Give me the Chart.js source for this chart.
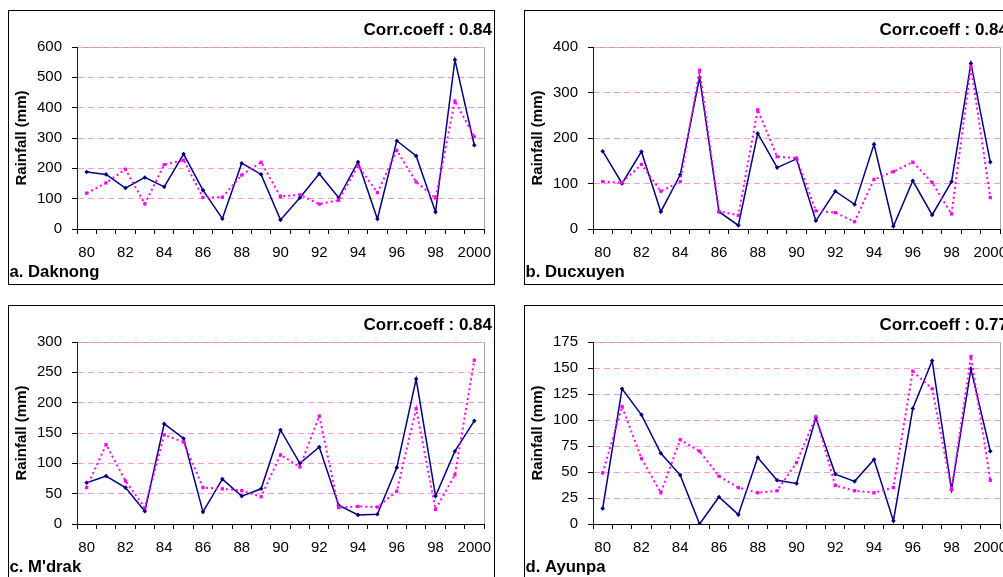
<!DOCTYPE html>
<html>
<head>
<meta charset="utf-8">
<script src="https://cdn.jsdelivr.net/npm/chart.js@4/dist/chart.umd.min.js"></script>
<style>
  html, body { margin: 0; padding: 0; background: #fff; }
  body { position: relative; width: 1003px; height: 577px; overflow: hidden; }
  .panel { position: absolute; box-sizing: border-box; width: 487px; height: 275px; border: 1px solid #000; background: #fff; }
  .panel canvas { position: absolute; left: 0; top: 0; }
</style>
</head>
<body>
<div class="panel" style="left:8px;top:10px"><canvas id="chartA" width="485" height="273"></canvas></div>
<div class="panel" style="left:524px;top:10px"><canvas id="chartB" width="485" height="273"></canvas></div>
<div class="panel" style="left:8px;top:305px"><canvas id="chartC" width="485" height="273"></canvas></div>
<div class="panel" style="left:524px;top:305px"><canvas id="chartD" width="485" height="273"></canvas></div>
<script>
// Years 1980-2000 on the category axis
const years = ['80','81','82','83','84','85','86','87','88','89','90',
               '91','92','93','94','95','96','97','98','99','2000'];

// a. Daknong
const daknongObs = [188,180,135,170,139,247,128,34,217,180,30,103,182,103,221,33,291,241,56,558,276];
const daknongEst = [118,152,197,83,212,227,104,105,178,220,107,113,82,95,208,120,259,155,102,422,304];
const daknongTicks = [0,100,200,300,400,500,600];

// b. Ducxuyen
const ducxuyenObs = [171,100,170,38,119,333,38,8,210,135,154,18,83,54,186,6,106,31,104,364,147];
const ducxuyenEst = [104,102,142,83,104,349,39,30,262,159,156,40,36,16,109,126,147,102,33,357,69];
const ducxuyenTicks = [0,100,200,300,400];

// c. M'drak
const mdrakObs = [68,79,60,21,165,141,20,74,46,58,155,100,127,31,15,16,93,239,46,120,170];
const mdrakEst = [60,131,71,27,147,135,60,58,55,45,114,94,178,27,29,28,54,190,24,81,270];
const mdrakTicks = [0,50,100,150,200,250,300];

// d. Ayunpa
const ayunpaObs = [15,130,105,68,47,0,26,9,64,42,39,102,48,41,62,3,111,157,33,149,70];
const ayunpaEst = [49,113,63,30,81,70,46,35,30,32,59,103,37,32,30,35,147,130,33,161,42];
const ayunpaTicks = [0,25,50,75,100,125,150,175];

const FONT = "'Liberation Sans', Arial, Helvetica, sans-serif";
Chart.defaults.font.family = FONT;
Chart.defaults.color = '#000';

// Grey frame along the top and right of the plot area
const plotFrame = {
  id: 'plotFrame',
  beforeDraw(chart) {
    const a = chart.chartArea, ctx = chart.ctx;
    ctx.save();
    ctx.strokeStyle = '#a6a6a6';
    ctx.lineWidth = 1;
    ctx.beginPath();
    ctx.moveTo(Math.round(a.left) + 0.5, Math.round(a.top) + 0.5);
    ctx.lineTo(Math.round(a.right) + 0.5, Math.round(a.top) + 0.5);
    ctx.lineTo(Math.round(a.right) + 0.5, Math.round(a.bottom) + 0.5);
    ctx.stroke();
    ctx.restore();
  }
};

// Correlation note (top right) and station name (bottom left)
const panelText = {
  id: 'panelText',
  afterDraw(chart, args, opts) {
    const ctx = chart.ctx;
    ctx.save();
    ctx.fillStyle = '#000';
    ctx.textBaseline = 'alphabetic';
    ctx.font = 'bold 17px ' + FONT;
    ctx.textAlign = 'right';
    ctx.fillText(opts.corr, chart.width - 2, 24);
    ctx.font = 'bold 16.7px ' + FONT;
    ctx.textAlign = 'left';
    ctx.fillText(opts.name, 0.5, 266);
    ctx.restore();
  }
};

function makeChart(id, ticks, obs, est, corr, name) {
  const step = ticks[1] - ticks[0];
  return new Chart(document.getElementById(id), {
    type: 'line',
    data: {
      labels: years,
      datasets: [
        {
          data: est,
          borderColor: '#ff00ff',
          borderWidth: 2,
          borderDash: [2, 3],
          pointStyle: 'rect',
          pointRadius: 2.3,
          pointBorderWidth: 0,
          pointBackgroundColor: '#ff00ff',
          tension: 0,
          fill: false
        },
        {
          data: obs,
          borderColor: '#000080',
          borderWidth: 1.5,
          pointStyle: 'rectRot',
          pointRadius: 2.3,
          pointBorderWidth: 0,
          pointBackgroundColor: '#000080',
          tension: 0,
          fill: false
        }
      ]
    },
    options: {
      responsive: false,
      animation: false,
      events: [],
      layout: { padding: { left: 0, top: 36, right: 10, bottom: 0 } },
      plugins: {
        legend: { display: false },
        tooltip: { enabled: false },
        panelText: { corr: corr, name: name }
      },
      scales: {
        x: {
          type: 'category',
          offset: true,
          grid: {
            display: true, offset: true, drawOnChartArea: false, drawTicks: true,
            tickLength: 5, tickColor: '#000', tickWidth: 1
          },
          border: { display: true, color: '#000', width: 1 },
          ticks: {
            autoSkip: false, maxRotation: 0, minRotation: 0, padding: 10, color: '#000',
            font: { size: 15 },
            callback: (v, i) => (i % 2 === 0 ? years[i] : '')
          },
          afterFit(s) { s.height = 55; s.paddingLeft = 0; s.paddingRight = 0; }
        },
        y: {
          min: ticks[0],
          max: ticks[ticks.length - 1],
          afterBuildTicks(s) { s.ticks = ticks.map(v => ({ value: v })); },
          ticks: { stepSize: step, padding: 10, color: '#000', font: { size: 15 } },
          grid: {
            color: c => (c.tick && c.tick.value === ticks[0]) ? 'rgba(0,0,0,0)' : '#ff99cc',
            lineWidth: 1, drawTicks: true, tickLength: 5, tickColor: '#000', tickWidth: 1
          },
          border: { display: true, color: '#1a1a1a', width: 1, dash: [6, 4] },
          title: {
            display: true, text: 'Rainfall (mm)', color: '#000',
            font: { size: 15, weight: 'bold' }, padding: { top: 4, bottom: 4 }
          },
          afterFit(s) { s.width = 68; s.paddingTop = 0; s.paddingBottom = 0; }
        }
      }
    },
    plugins: [plotFrame, panelText]
  });
}

makeChart('chartA', daknongTicks, daknongObs, daknongEst, 'Corr.coeff : 0.84', 'a. Daknong');
makeChart('chartB', ducxuyenTicks, ducxuyenObs, ducxuyenEst, 'Corr.coeff : 0.84', 'b. Ducxuyen');
makeChart('chartC', mdrakTicks, mdrakObs, mdrakEst, 'Corr.coeff : 0.84', "c. M'drak");
makeChart('chartD', ayunpaTicks, ayunpaObs, ayunpaEst, 'Corr.coeff : 0.77', 'd. Ayunpa');
</script>
</body>
</html>
